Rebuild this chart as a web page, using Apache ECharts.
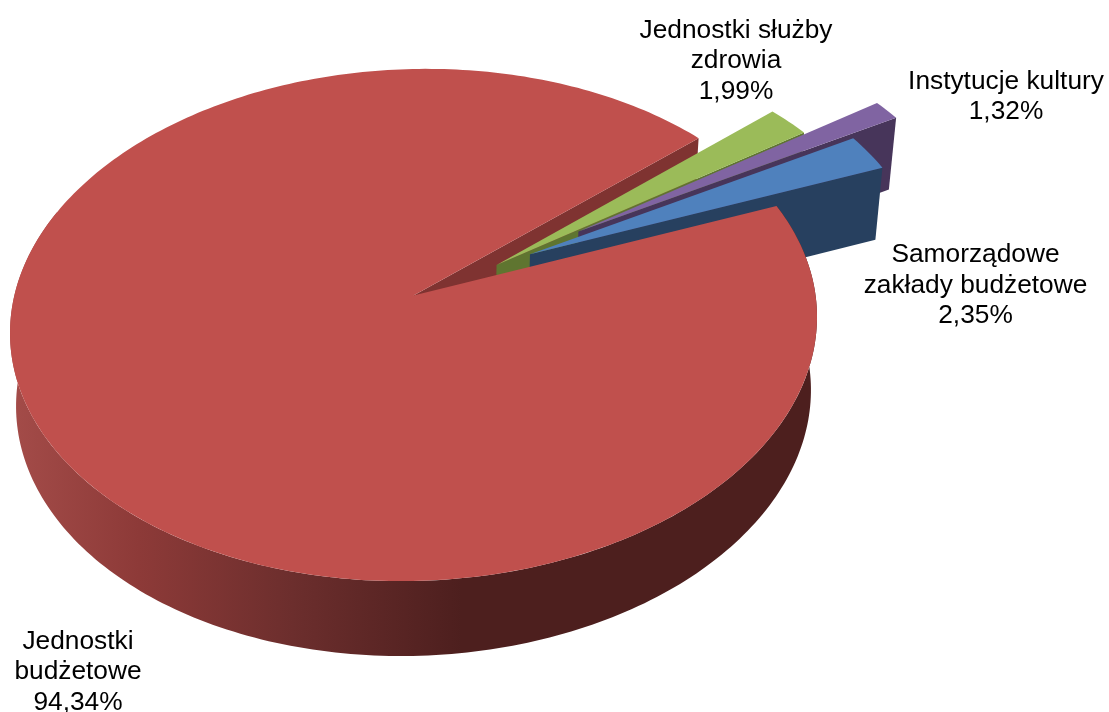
<!DOCTYPE html>
<html><head><meta charset="utf-8">
<style>html,body{margin:0;padding:0;background:#fff;overflow:hidden}#c{width:1109px;height:712px}</style>
<script src="https://cdn.jsdelivr.net/npm/echarts@6/dist/echarts.min.js"></script>
</head><body><div id="c"></div>
<script>
const categories = ['Jednostki\nbudżetowe', 'Jednostki służby\nzdrowia', 'Instytucje kultury', 'Samorządowe\nzakłady budżetowe'];
const shares = [94.34, 1.99, 1.32, 2.35];
const explosion = [0, 0.24, 0.49, 0.335];
const explodeDirs = [0, 61, 59.7, 62];
const topColors = ['#C0504D', '#9BBB59', '#8064A2', '#4F81BD'];
const wallColors = ['#7F3331', '#5F7530', '#47355A', '#27405F'];
const labelAnchors = [[78, 672], [736, 61], [1006, 96.5], [975.5, 285.5]];

// projection of the pie's disc on to the screen
const view = {cx: 413.5, cy: 325, rx: 403.5, ry: 256, k: 0.115, tilt: 0.02, firstAngle: 70.2, depth: 72, taper: 0.015};
const rad = d => d * Math.PI / 180;
const s = Math.sqrt(1 - view.k * view.k);
function topPt(u, v) {
  const d = 1 - view.k * v;
  const x = view.cx + view.rx * u * s / d;
  return [x, view.cy + view.ry * (v - view.k) / d - view.tilt * (x - view.cx)];
}
function botPt(u, v) {
  const p = topPt(u, v);
  return [view.cx + (p[0] - view.cx) * (1 - view.taper), p[1] + view.depth + (p[1] - 168) * 0.007];
}
const total = shares.reduce((a, b) => a + b, 0);
let acc = view.firstAngle;
const slices = shares.map((val, i) => {
  const sweep = val / total * 360;
  const sl = {i, a0: acc, a1: acc + sweep,
    ox: explosion[i] * Math.sin(rad(explodeDirs[i])),
    oy: -explosion[i] * Math.cos(rad(explodeDirs[i]))};
  acc += sweep;
  return sl;
});
function rim(sl, a) { return [sl.ox + Math.sin(rad(a)), sl.oy - Math.cos(rad(a))]; }
function arcAngles(a0, a1) {
  const n = Math.max(4, Math.ceil(Math.abs(a1 - a0)));
  const out = [];
  for (let j = 0; j <= n; j++) out.push(a0 + (a1 - a0) * j / n);
  return out;
}
function topShape(sl) {
  const pts = [topPt(sl.ox, sl.oy)];
  arcAngles(sl.a0, sl.a1).forEach(a => { const r = rim(sl, a); pts.push(topPt(r[0], r[1])); });
  return pts;
}
function cutShape(sl) {
  const r = rim(sl, sl.a1);
  return [topPt(sl.ox, sl.oy), topPt(r[0], r[1]), botPt(r[0], r[1]), botPt(sl.ox, sl.oy)];
}
function outerShape(sl) {
  const as = arcAngles(sl.a0, 292);
  const up = as.map(a => { const r = rim(sl, a); return topPt(r[0], r[1]); });
  const low = as.map(a => { const r = rim(sl, a); return botPt(r[0], r[1]); }).reverse();
  return up.concat(low);
}
const wallGradient = {type: 'linear', x: 0, y: 0, x2: 1, y2: 0, colorStops: [
  {offset: 0, color: '#A44C49'}, {offset: 0.16, color: '#8D3A38'}, {offset: 0.35, color: '#6C2E2D'},
  {offset: 0.56, color: '#4D1F1E'}, {offset: 1, color: '#4D1F1E'}]};

// painter's order, back to front
const paint = [
  [0, 'cut'], [1, 'cut'], [1, 'top'], [2, 'cut'], [2, 'top'], [3, 'cut'], [3, 'top'], [0, 'outer'], [0, 'top']
];

function renderPiece(params, api) {
  const item = paint[params.dataIndex];
  const sl = slices[item[0]];
  const kind = item[1];
  if (kind === 'top') return {type: 'polygon', shape: {points: topShape(sl)}, style: {fill: topColors[sl.i]}};
  if (kind === 'cut') return {type: 'polygon', shape: {points: cutShape(sl)}, style: {fill: wallColors[sl.i]}};
  return {type: 'polygon', shape: {points: outerShape(sl)}, style: {fill: wallGradient}};
}
function renderLabel(params, api) {
  const i = params.dataIndex;
  return {type: 'text', style: {
    x: labelAnchors[i][0], y: labelAnchors[i][1],
    text: categories[i] + '\n' + shares[i].toFixed(2).replace('.', ',') + '%',
    font: '26.3px "Liberation Sans", Arial, sans-serif', fill: '#000',
    align: 'center', verticalAlign: 'middle', lineHeight: 30.5
  }};
}
const chart = echarts.init(document.getElementById('c'));
chart.setOption({
  animation: false,
  backgroundColor: '#fff',
  series: [
    {type: 'custom', coordinateSystem: 'none', silent: true, data: paint.map((p, i) => i), renderItem: renderPiece},
    {type: 'custom', coordinateSystem: 'none', silent: true, z: 5, data: shares, renderItem: renderLabel}
  ]
});
</script></body></html>
